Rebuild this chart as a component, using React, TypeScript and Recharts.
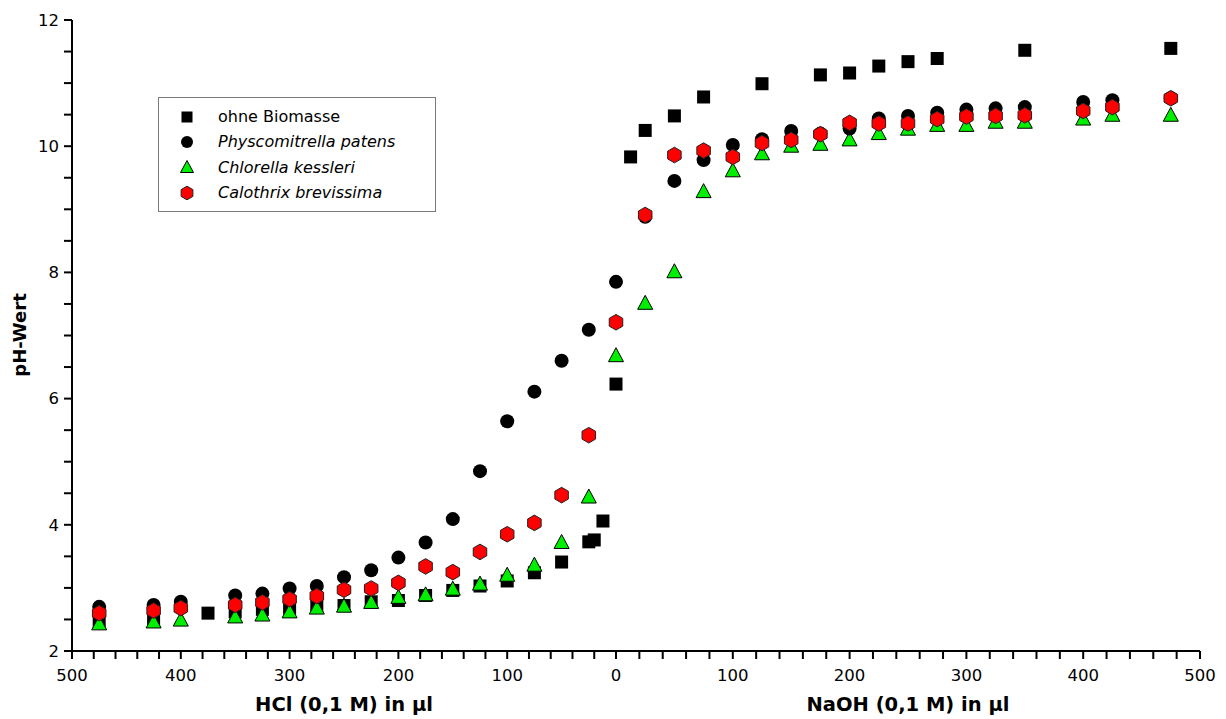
import React from 'react';
import { ScatterChart, Scatter, XAxis, YAxis, Legend } from 'recharts';

const FONT = '"DejaVu Sans", Verdana, sans-serif';

// HCl side: [µl, pH]
const hclOhne = [
  [475, 2.47], [425, 2.5], [375, 2.6], [350, 2.62], [325, 2.66], [300, 2.68], [275, 2.72],
  [250, 2.72], [225, 2.78], [200, 2.8], [175, 2.88], [150, 2.96], [125, 3.03], [100, 3.11],
  [75, 3.24], [50, 3.41], [25, 3.73], [20, 3.76], [12, 4.06],
];
const hclPhyscomitrella = [
  [475, 2.7], [425, 2.73], [400, 2.78], [350, 2.88], [325, 2.91], [300, 2.99], [275, 3.03],
  [250, 3.17], [225, 3.28], [200, 3.48], [175, 3.72], [150, 4.09], [125, 4.85], [100, 5.64],
  [75, 6.11], [50, 6.6], [25, 7.09],
];
const hclChlorella = [
  [475, 2.43], [425, 2.46], [400, 2.49], [350, 2.54], [325, 2.57], [300, 2.62], [275, 2.68],
  [250, 2.71], [225, 2.77], [200, 2.85], [175, 2.89], [150, 2.98], [125, 3.06], [100, 3.2],
  [75, 3.36], [50, 3.72], [25, 4.44],
];
const hclCalothrix = [
  [475, 2.6], [425, 2.64], [400, 2.68], [350, 2.73], [325, 2.77], [300, 2.82], [275, 2.87],
  [250, 2.97], [225, 2.99], [200, 3.08], [175, 3.34], [150, 3.25], [125, 3.57], [100, 3.85],
  [75, 4.03], [50, 4.47], [25, 5.42],
];

// NaOH side: [µl, pH]
const naohOhne = [
  [0, 6.23], [12.5, 9.83], [25, 10.25], [50, 10.48], [75, 10.78], [125, 10.99], [175, 11.13],
  [200, 11.16], [225, 11.27], [250, 11.34], [275, 11.39], [350, 11.52], [475, 11.55],
];
const naohPhyscomitrella = [
  [0, 7.85], [25, 8.88], [50, 9.45], [75, 9.78], [100, 10.02], [125, 10.11], [150, 10.24],
  [175, 10.2], [200, 10.28], [225, 10.44], [250, 10.48], [275, 10.53], [300, 10.58],
  [325, 10.6], [350, 10.62], [400, 10.7], [425, 10.73], [475, 10.76],
];
const naohChlorella = [
  [0, 6.68], [25, 7.51], [50, 8.01], [75, 9.28], [100, 9.61], [125, 9.88], [150, 10.0],
  [175, 10.03], [200, 10.1], [225, 10.2], [250, 10.27], [275, 10.33], [300, 10.33],
  [325, 10.38], [350, 10.38], [400, 10.43], [425, 10.49], [475, 10.49],
];
const naohCalothrix = [
  [0, 7.21], [25, 8.91], [50, 9.86], [75, 9.93], [100, 9.83], [125, 10.05], [150, 10.1],
  [175, 10.19], [200, 10.37], [225, 10.36], [250, 10.36], [275, 10.43], [300, 10.47],
  [325, 10.48], [350, 10.49], [400, 10.56], [425, 10.62], [475, 10.76],
];

const hclTicks = [20, 40, 60, 80, 100, 120, 140, 160, 180, 200, 220, 240, 260, 280, 300, 320, 340, 360, 380, 400, 420, 440, 460, 480, 500];
const naohTicks = [0, 20, 40, 60, 80, 100, 120, 140, 160, 180, 200, 220, 240, 260, 280, 300, 320, 340, 360, 380, 400, 420, 440, 460, 480, 500];
const phTicks = [2, 2.5, 3, 3.5, 4, 4.5, 5, 5.5, 6, 6.5, 7, 7.5, 8, 8.5, 9, 9.5, 10, 10.5, 11, 11.5, 12];

const legendItems = [
  { name: 'ohne Biomasse', marker: 'square', italic: false },
  { name: 'Physcomitrella patens', marker: 'circle', italic: true },
  { name: 'Chlorella kessleri', marker: 'triangle', italic: true },
  { name: 'Calothrix brevissima', marker: 'hexagon', italic: true },
];

const toPoints = (arr: number[][]) => arr.map(([x, y]) => ({ x, y }));

const GREEN = '#00ee00';
const RED = '#ff0000';

const hexPoints = (cx: number, cy: number, r: number) => {
  const pts: string[] = [];
  for (let i = 0; i < 6; i++) {
    const a = (Math.PI / 180) * (-90 + i * 60);
    pts.push(`${cx + r * Math.cos(a)},${cy + r * Math.sin(a)}`);
  }
  return pts.join(' ');
};

const SquareShape = (p: any) => (
  <rect x={p.cx - 6.5} y={p.cy - 6.5} width={13} height={13} fill="#000" />
);
const CircleShape = (p: any) => <circle cx={p.cx} cy={p.cy} r={7} fill="#000" />;
const TriangleShape = (p: any) => (
  <polygon
    points={`${p.cx},${p.cy - 8} ${p.cx - 7.5},${p.cy + 6} ${p.cx + 7.5},${p.cy + 6}`}
    fill={GREEN}
    stroke="#000"
    strokeWidth={1}
  />
);
const HexShape = (p: any) => (
  <polygon points={hexPoints(p.cx, p.cy, 7.8)} fill={RED} stroke="#222" strokeWidth={1} />
);

const LegendMarker = ({ type }: { type: string }) => (
  <svg width={16} height={16} style={{ display: 'block' }}>
    {type === 'square' && <rect x={2.5} y={2.5} width={11} height={11} fill="#000" />}
    {type === 'circle' && <circle cx={8} cy={8} r={6} fill="#000" />}
    {type === 'triangle' && (
      <polygon points="8,1.5 1.5,13.5 14.5,13.5" fill={GREEN} stroke="#000" strokeWidth={1} />
    )}
    {type === 'hexagon' && (
      <polygon points={hexPoints(8, 8, 6.8)} fill={RED} stroke="#222" strokeWidth={1} />
    )}
  </svg>
);

const LegendBox = () => (
  <div
    style={{
      width: 278,
      height: 115,
      boxSizing: 'border-box',
      border: '1.5px solid #7a7a7a',
      background: '#fff',
      paddingTop: 6,
      fontFamily: FONT,
      fontSize: 16,
      color: '#000',
    }}
  >
    {legendItems.map((it) => (
      <div key={it.name} style={{ display: 'flex', alignItems: 'center', height: 25.3 }}>
        <div style={{ marginLeft: 20 }}>
          <LegendMarker type={it.marker} />
        </div>
        <span style={{ marginLeft: 23, fontStyle: it.italic ? 'italic' : 'normal', whiteSpace: 'nowrap' }}>
          {it.name}
        </span>
      </div>
    ))}
  </div>
);

const axisLine = { stroke: '#000', strokeWidth: 2 };
const tickStyle = { fontFamily: FONT, fontSize: 16.5, fill: '#000' };
const xFormat = (v: number) => (v % 100 === 0 ? String(v) : '');
const yFormat = (v: number) => (v % 2 === 0 ? String(v) : '');
const titleStyle = { fontFamily: FONT, fontSize: 19.5, fontWeight: 'bold', fill: '#000' };

const YTitle = () => (
  <text
    x={19}
    y={335}
    transform="rotate(-90, 19, 335)"
    textAnchor="middle"
    dominantBaseline="central"
    style={{ ...titleStyle, fontSize: 18 }}
  >
    pH-Wert
  </text>
);

export default function App() {
  return (
    <div style={{ position: 'absolute', left: 0, top: 0, width: 1226, height: 719, background: '#fff', fontFamily: FONT }}>
      <div style={{ position: 'absolute', left: 0, top: 0 }}>
        <ScatterChart width={620} height={719} margin={{ top: 20, right: 4, bottom: 0, left: 0 }}>
          <XAxis
            type="number"
            dataKey="x"
            domain={[0, 500]}
            reversed
            ticks={hclTicks}
            interval={0}
            tickFormatter={xFormat}
            height={68}
            axisLine={axisLine}
            tickLine={axisLine}
            tickSize={8}
            tickMargin={10}
            tick={tickStyle}
            label={{ value: 'HCl (0,1 M) in µl', position: 'insideBottom', offset: 8, ...titleStyle }}
          />
          <YAxis
            type="number"
            dataKey="y"
            domain={[2, 12]}
            ticks={phTicks}
            interval={0}
            tickFormatter={yFormat}
            width={72}
            axisLine={axisLine}
            tickLine={axisLine}
            tickSize={8}
            tickMargin={5}
            tick={tickStyle}
            label={{ content: () => <YTitle /> }}
          />
          <Scatter data={toPoints(hclOhne)} shape={SquareShape} isAnimationActive={false} />
          <Scatter data={toPoints(hclChlorella)} shape={TriangleShape} isAnimationActive={false} />
          <Scatter data={toPoints(hclPhyscomitrella)} shape={CircleShape} isAnimationActive={false} />
          <Scatter data={toPoints(hclCalothrix)} shape={HexShape} isAnimationActive={false} />
          <Legend
            layout="vertical"
            align="center"
            verticalAlign="middle"
            content={() => <LegendBox />}
            wrapperStyle={{ left: 158, top: 97, width: 'auto', height: 'auto' }}
          />
        </ScatterChart>
      </div>
      <div style={{ position: 'absolute', left: 596, top: 0 }}>
        <ScatterChart width={630} height={719} margin={{ top: 20, right: 26, bottom: 0, left: 20 }}>
          <XAxis
            type="number"
            dataKey="x"
            domain={[0, 500]}
            ticks={naohTicks}
            interval={0}
            tickFormatter={xFormat}
            height={68}
            axisLine={axisLine}
            tickLine={axisLine}
            tickSize={8}
            tickMargin={10}
            tick={tickStyle}
            label={{ value: 'NaOH (0,1 M) in µl', position: 'insideBottom', offset: 8, ...titleStyle }}
          />
          <YAxis type="number" dataKey="y" domain={[2, 12]} hide />
          <Scatter data={toPoints(naohOhne)} shape={SquareShape} isAnimationActive={false} />
          <Scatter data={toPoints(naohChlorella)} shape={TriangleShape} isAnimationActive={false} />
          <Scatter data={toPoints(naohPhyscomitrella)} shape={CircleShape} isAnimationActive={false} />
          <Scatter data={toPoints(naohCalothrix)} shape={HexShape} isAnimationActive={false} />
        </ScatterChart>
      </div>
    </div>
  );
}
